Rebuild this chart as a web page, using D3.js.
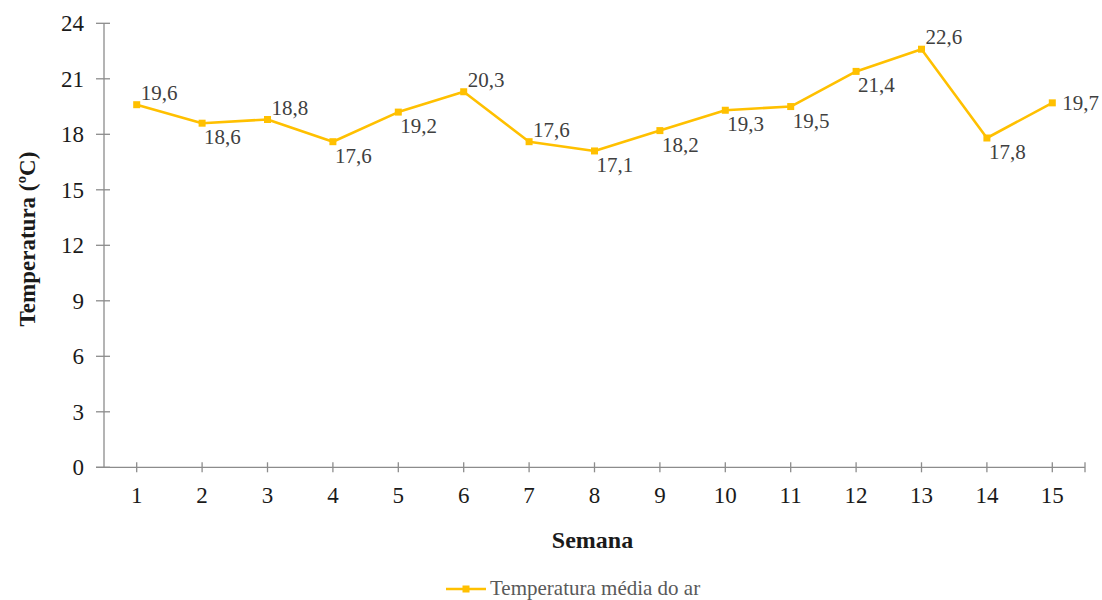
<!DOCTYPE html>
<html><head><meta charset="utf-8">
<script src="https://cdn.jsdelivr.net/npm/d3@7"></script>
<style>body{margin:0;background:#fff}svg{display:block}text{font-family:"Liberation Serif","Times New Roman",serif}</style>
</head><body>
<script>
const weeks = ["1","2","3","4","5","6","7","8","9","10","11","12","13","14","15"];
const temps = [19.6,18.6,18.8,17.6,19.2,20.3,17.6,17.1,18.2,19.3,19.5,21.4,22.6,17.8,19.7];
const labelPos = ["above","below","above","below","below","above","above","below","below","below","below","below","above","below","right"];
const yTicks = [0,3,6,9,12,15,18,21,24];
const seriesName = "Temperatura média do ar";
const xTitle = "Semana";
const yTitle = "Temperatura (ºC)";

const W = 1102, H = 600;
const m = {left:104, right:1085, top:23.3, bottom:467.3};
const color = "#FFC000", axisColor = "#8c8c8c";

const svg = d3.select("body").append("svg").attr("width",W).attr("height",H);
const x = d3.scaleBand().domain(weeks).range([m.left,m.right]);
const y = d3.scaleLinear().domain([0,24]).range([m.bottom,m.top]);
const cx = d => x(d) + x.bandwidth()/2;

// y axis
const gy = svg.append("g");
gy.append("line").attr("x1",m.left).attr("x2",m.left).attr("y1",y(24)).attr("y2",y(0)).attr("stroke",axisColor).attr("stroke-width",1.3);
gy.selectAll("line.t").data(yTicks).join("line").attr("class","t")
  .attr("x1",m.left-8).attr("x2",m.left+6).attr("y1",d=>y(d)).attr("y2",d=>y(d)).attr("stroke",axisColor).attr("stroke-width",1.3);
gy.selectAll("text").data(yTicks).join("text")
  .attr("x",m.left-20).attr("y",d=>y(d)).attr("dy","0.35em").attr("text-anchor","end")
  .attr("font-size",23).attr("fill","#1a1a1a").text(d=>d);

// x axis
const gx = svg.append("g");
gx.append("line").attr("x1",m.left-8).attr("x2",m.right).attr("y1",m.bottom).attr("y2",m.bottom).attr("stroke",axisColor).attr("stroke-width",1.3);
const xt = weeks.map(cx).concat([m.right]);
gx.selectAll("line.t").data(xt).join("line").attr("class","t")
  .attr("x1",d=>d).attr("x2",d=>d).attr("y1",m.bottom-5).attr("y2",m.bottom+5).attr("stroke",axisColor).attr("stroke-width",1.3);
gx.selectAll("text").data(weeks).join("text")
  .attr("x",d=>cx(d)).attr("y",m.bottom+36).attr("text-anchor","middle")
  .attr("font-size",23).attr("fill","#1a1a1a").text(d=>d);

// titles
svg.append("text").attr("x",(m.left+m.right)/2 - 2).attr("y",548).attr("text-anchor","middle")
  .attr("font-size",24).attr("font-weight","bold").attr("fill","#1a1a1a").text(xTitle);
svg.append("text").attr("transform",`translate(35,239) rotate(-90)`).attr("text-anchor","middle")
  .attr("font-size",23).attr("font-weight","bold").attr("fill","#1a1a1a").text(yTitle);

// line
const line = d3.line().x((d,i)=>cx(weeks[i])).y(d=>y(d));
svg.append("path").datum(temps).attr("d",line).attr("fill","none").attr("stroke",color).attr("stroke-width",2.6).attr("stroke-linejoin","round");
svg.selectAll("rect.mk").data(temps).join("rect").attr("class","mk")
  .attr("x",(d,i)=>cx(weeks[i])-3.5).attr("y",d=>y(d)-3.5).attr("width",7).attr("height",7).attr("fill",color);

// data labels
svg.selectAll("text.lb").data(temps).join("text").attr("class","lb")
  .attr("x",(d,i)=>cx(weeks[i]) + (labelPos[i]==="right"?10:(labelPos[i]==="above"?4:2)))
  .attr("y",(d,i)=>y(d) + (labelPos[i]==="above"?-5:(labelPos[i]==="below"?21:7)))
  .attr("font-size",21).attr("fill","#404040")
  .text(d=>d.toFixed(1).replace(".",","));

// legend
const lg = svg.append("g");
lg.append("line").attr("x1",446).attr("x2",486).attr("y1",589).attr("y2",589).attr("stroke",color).attr("stroke-width",2.6);
lg.append("rect").attr("x",462.5).attr("y",585.5).attr("width",7).attr("height",7).attr("fill",color);
lg.append("text").attr("x",490).attr("y",595).attr("font-size",21).attr("fill","#595959").text(seriesName);
</script>
</body></html>
